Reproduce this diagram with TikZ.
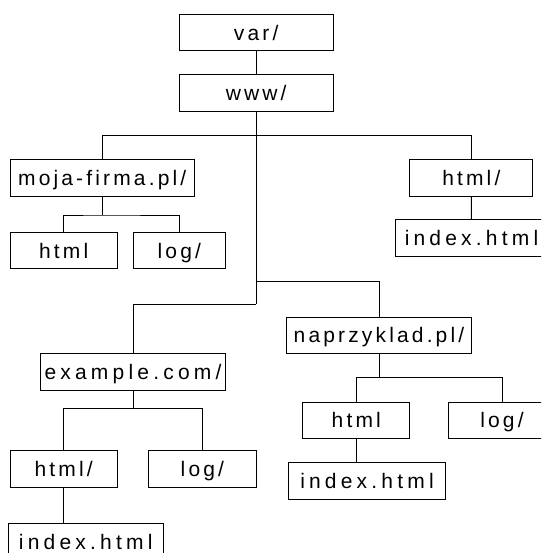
\documentclass[tikz,border=0pt]{standalone}
\usepackage{fontspec}
\usepackage{tikz}
\usetikzlibrary{positioning, calc}
\newfontfamily\dirfont{Liberation Sans}[LetterSpace=15]
\newfontfamily\widefont{Liberation Sans}[LetterSpace=20]
\tikzset{
  dirbox/.style={rectangle, draw=black, fill=white, line width=0.9pt,
    minimum height=36.5pt, inner sep=0pt, text height=15pt, text depth=0pt,
    font=\dirfont\fontsize{21}{24}\selectfont},
  widebox/.style={dirbox, font=\widefont\fontsize{21}{24}\selectfont},
  link/.style={draw=black, line width=0.9pt}
}

\begin{document}
\begin{tikzpicture}[x=1pt, y=-1pt]
  \clip (0,0) rectangle (541,553);
  \fill[white] (0,0) rectangle (541,553);

  % Top of the tree
  \node[dirbox, minimum width=154pt] (var) at (256.2,32.7) {var/};
  \node[dirbox, minimum width=154pt] (www) at (256.2,93.2) {www/};

  % First level
  \node[dirbox, minimum width=184pt] (moja) at (102.2,177.9) {moja-firma.pl/};
  \node[dirbox, minimum width=123pt] (htmlR) at (471.3,177.9) {html/};
  \node[dirbox, minimum width=185pt] (naprz) at (379,335.4) {naprzyklad.pl/};
  \node[widebox, minimum width=185pt] (example) at (133,371.7) {example.com/};

  % moja-firma.pl children
  \node[dirbox, minimum width=107pt] (mojaHtml) at (63.7,250.6) {html};
  \node[dirbox, minimum width=92pt] (mojaLog) at (179.3,250.6) {log/};

  % html/ children
  \node[widebox, minimum width=153pt] (indexR) at (471.5,238) {index.html};

  % example.com children
  \node[dirbox, minimum width=107pt] (exHtml) at (63.7,468.8) {html/};
  \node[dirbox, minimum width=108pt] (exLog) at (202.4,468.8) {log/};
  \node[widebox, minimum width=155pt] (exIndex) at (85.7,541.6) {index.html};

  % naprzyklad.pl children
  \node[dirbox, minimum width=107pt] (npHtml) at (356.3,420.3) {html};
  \node[dirbox, minimum width=108pt] (npLog) at (502,420.3) {log/};
  \node[widebox, minimum width=157pt] (npIndex) at (367,481) {index.html};

  % Forks
  \coordinate (wwwfork) at (256.2,135.7);
  \coordinate (npfork) at (256.2,281.7);
  \coordinate (trunkend) at (256.2,304.3);
  \coordinate (mojafork) at (102.2,215);
  \coordinate (exfork) at (133,408.3);
  \coordinate (npkids) at (379,377.7);

  % Connectors
  \draw[link] (var) -- (www);
  \draw[link] (www.south) -- (trunkend);
  \draw[link] (moja.north) |- (wwwfork) -| (htmlR.north);
  \draw[link] (npfork) -| (naprz.north);
  \draw[link] (example.north) |- (trunkend);
  \draw[link] (htmlR) -- (indexR);

  \draw[link] (moja.south) -- (mojafork);
  \draw[link] (mojaHtml.north) |- (mojafork) -| (mojaLog.north);

  \draw[link] (example.south) -- (exfork);
  \draw[link] (exHtml.north) |- (exfork) -| (exLog.north);
  \draw[link] (exHtml.south) -- (exHtml.south |- exIndex.north);

  \draw[link] (naprz.south) -- (npkids);
  \draw[link] (npHtml.north) |- (npkids) -| (npLog.north);
  \draw[link] (npHtml.south) -- (npHtml.south |- npIndex.north);
\end{tikzpicture}
\end{document}
